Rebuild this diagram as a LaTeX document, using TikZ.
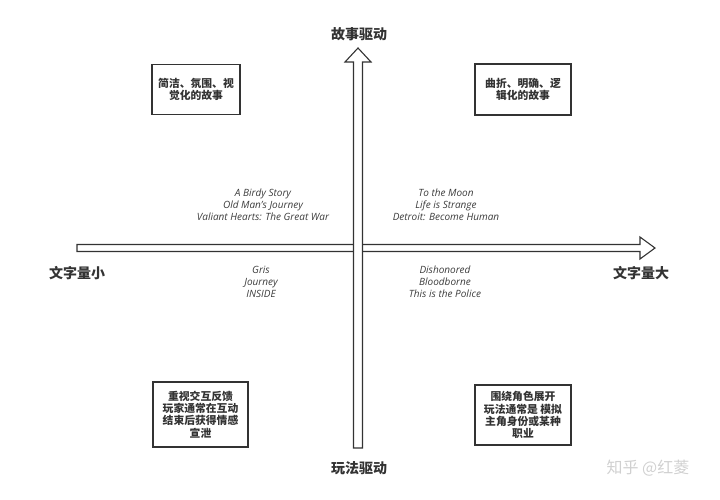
\documentclass[tikz,border=0pt]{standalone}
\usepackage{fontspec}
\usetikzlibrary{calc}
\setmainfont{Open Sans}
\newfontfamily\cjk{Noto Sans CJK SC}
\definecolor{ink}{HTML}{333333}
\definecolor{gametxt}{HTML}{3C3C3C}
\definecolor{mark}{HTML}{D0D0D0}
\begin{document}
\begin{tikzpicture}[x=1pt,y=-1pt,
  quadbox/.style={draw=ink,line width=1.3pt,fill=white,align=center,inner sep=0pt,
    font=\cjk\bfseries\fontsize{10.8}{12.2}\selectfont,text=ink},
  axislabel/.style={font=\cjk\bfseries\fontsize{14}{16}\selectfont,text=ink},
  gamelist/.style={font=\itshape\fontsize{10}{12}\selectfont,text=gametxt,align=center},
  blockarrow/.style={draw=ink,line width=1.1pt,fill=white,line join=miter}]
\useasboundingbox (0,0) rectangle (720,499);
% horizontal block arrow
\coordinate (hl) at (77,248);
\coordinate (ht) at (655,248);
\draw[blockarrow] ($(hl)+(0,-3.5)$) -- ($(ht)+(-15,-3.5)$) -- ($(ht)+(-15,-11)$) -- (ht)
  -- ($(ht)+(-15,11)$) -- ($(ht)+(-15,3.5)$) -- ($(hl)+(0,3.5)$) -- cycle;
% vertical block arrow
\coordinate (vb) at (358,448);
\coordinate (vt) at (358,48);
\draw[blockarrow] ($(vb)+(-4.5,0)$) -- ($(vt)+(-4.5,14)$) -- ($(vt)+(-13,14)$) -- (vt)
  -- ($(vt)+(13,14)$) -- ($(vt)+(4.5,14)$) -- ($(vb)+(4.5,0)$) -- cycle;
% axis labels
\node[axislabel] (story) at (359,34) {故事驱动};
\node[axislabel] (play) at (359,468) {玩法驱动};
\node[axislabel] (less) at (77,273) {文字量小};
\node[axislabel] (more) at (641,273) {文字量大};
% quadrant boxes
\node[quadbox,minimum width=88pt,minimum height=50pt] (tl) at (196,89.5) {简洁、氛围、视\\觉化的故事};
\node[quadbox,minimum width=96pt,minimum height=51pt] (tr) at (523,89.5) {曲折、明确、逻\\辑化的故事};
\node[quadbox,minimum width=95pt,minimum height=65pt] (bl) at (200.5,414.5) {重视交互反馈\\玩家通常在互动\\结束后获得情感\\宣泄};
\node[quadbox,minimum width=96pt,minimum height=60pt] (br) at (523,415) {围绕角色展开\\玩法通常是 模拟\\主角身份或某种\\职业};
% game lists
\node[gamelist] (gtl) at (263,205) {A Birdy Story\\Old Man's Journey\\Valiant Hearts: The Great War};
\node[gamelist] (gtr) at (446,205) {To the Moon\\Life is Strange\\Detroit: Become Human};
\node[gamelist] (gbl) at (261,282) {Gris\\Journey\\INSIDE};
\node[gamelist] (gbr) at (445,282) {Dishonored\\Bloodborne\\This is the Police};
% watermark
\node[font=\cjk\fontsize{16}{18}\selectfont,text=mark] (wm) at (648,468) {知乎 @红菱};
\end{tikzpicture}
\end{document}
